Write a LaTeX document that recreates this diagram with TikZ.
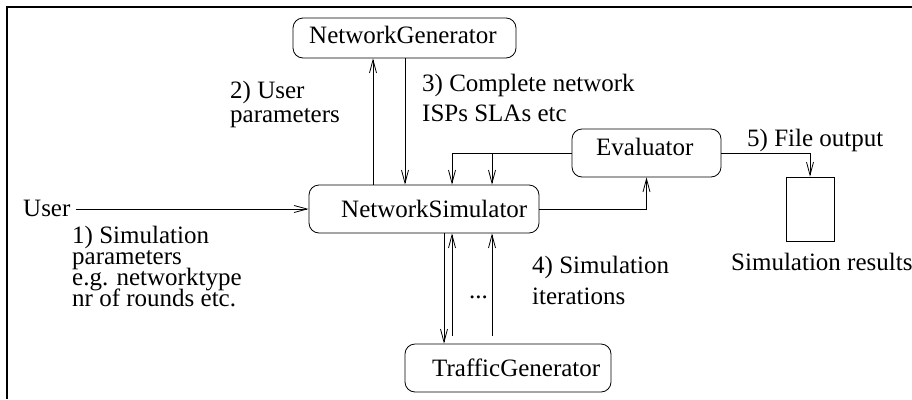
\documentclass[tikz,border=0pt]{standalone}
\usepackage{fontspec}
\setmainfont{Liberation Serif}
\usetikzlibrary{arrows.meta,calc}
\begin{document}
\begin{tikzpicture}[x=1pt,y=-1pt,
  box/.style={draw,rounded corners=10pt,line width=0.8pt,inner sep=0pt},
  lbl/.style={anchor=base west,inner sep=0pt,font=\fontsize{25}{28}\selectfont},
  arr/.style={line width=0.8pt,-{Straight Barb[length=13pt,width=7pt,line width=0.8pt]}}]
\useasboundingbox (0,0) rectangle (912,399);
\draw[line width=2.5pt] (7,399) -- (7,7) -- (912,7);
% boxes
\node[box,minimum width=223pt,minimum height=40pt] (ng) at (404.5,38) {};
\node[box,minimum width=230pt,minimum height=48pt] (ns) at (424,209) {};
\node[box,minimum width=149pt,minimum height=48pt] (ev) at (646.5,153) {};
\node[box,minimum width=206pt,minimum height=48pt] (tg) at (508,368) {};
\node[draw,line width=0.8pt,inner sep=0pt,minimum width=48pt,minimum height=64pt] (res) at (810,209) {};
% box texts
\node[lbl] (ngt) at (309,43) {NetworkGenerator};
\node[lbl] (nst) at (341,217) {NetworkSimulator};
\node[lbl] (evt) at (596,155) {Evaluator};
\node[lbl] (tgt) at (432,376) {TrafficGenerator};
% labels
\node[lbl] (user) at (23,216) {User};
\node[lbl] (l1) at (72,243) {\vtop{\baselineskip=21.3pt\lineskiplimit=-50pt\lineskip=0pt
  \hbox{1) Simulation}\hbox{parameters}\hbox{e.g. networktype}\hbox{nr of rounds etc.}}};
\node[lbl] (l2a) at (230,98) {2) User};
\node[lbl] (l2b) at (230,122) {parameters};
\node[lbl] (l3a) at (422,91) {3) Complete network};
\node[lbl] (l3b) at (422,121) {ISPs SLAs etc};
\node[lbl] (l4a) at (532,273) {4) Simulation};
\node[lbl] (l4b) at (532,304) {iterations};
\node[lbl] (l5) at (747,146) {5) File output};
\node[lbl] (lres) at (731,270) {Simulation results};
\node[lbl] (dots) at (469,298) {...};
% helper x coordinates
\coordinate (x373) at (373,0);
\coordinate (x405) at (405,0);
\coordinate (x444) at (444,0);
\coordinate (x452) at (452,0);
\coordinate (x492) at (492,0);
\coordinate (tgtop) at ([yshift=8pt]tg.north);
% connectors
\draw[arr] ([xshift=5pt]user.east |- ns.west) -- (ns.west);
\draw[arr] (ns.north -| x373) -- (ng.south -| x373);
\draw[arr] (ng.south -| x405) -- (ns.north -| x405);
\draw[arr] (ev.west) -| (ns.north -| x452);
\draw[arr] (ev.west -| x492) -- (ns.north -| x492);
\draw[arr] (ns.east) -| (ev.south);
\draw[arr] (ev.east) -| (res.north);
\draw[arr] (ns.south -| x444) -- (tg.north -| x444);
\draw[arr] (tgtop -| x452) -- (ns.south -| x452);
\draw[arr] (tgtop -| x492) -- (ns.south -| x492);
\end{tikzpicture}
\end{document}
